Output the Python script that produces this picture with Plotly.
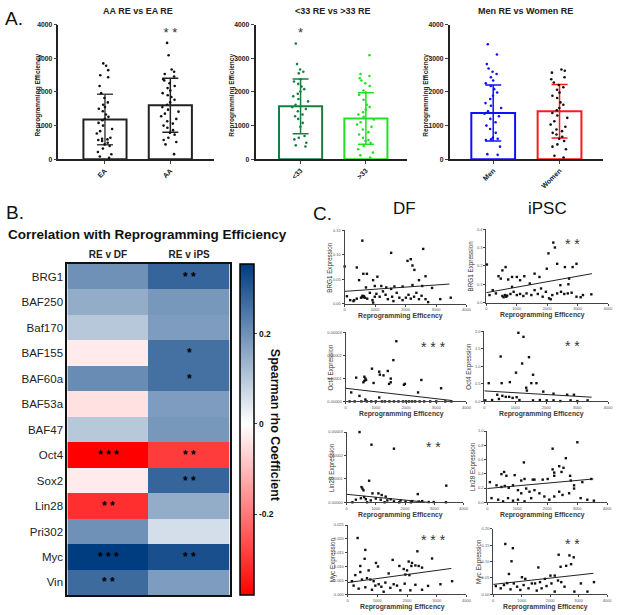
import plotly.graph_objects as go

W, H = 620, 615
FONT = "Liberation Sans"


def PX(x):
    return x / W


def PY(y):
    return 1 - y / H


# ---------------- Panel A data ----------------
race_groups = ["EA", "AA"]
race_means = [1180, 1605]
race_sd = [750, 800]
ea_re = [2850, 2780, 2650, 2500, 2440, 2180, 1965, 1820, 1690, 1620, 1550, 1500, 1425, 1330, 1260,
         1200, 1160, 1080, 1000, 900, 835, 767, 640, 610, 590, 570, 540, 490, 440, 393, 315, 216,
         147, 80, 40]
aa_re = [3460, 3095, 2670, 2600, 2535, 2460, 2380, 2340, 2260, 2180, 2115, 2045, 1965, 1905, 1850,
         1770, 1690, 1620, 1550, 1475, 1415, 1355, 1280, 1200, 1130, 1060, 1000, 935, 865, 785,
         730, 640, 570, 510, 440, 150]

age_groups = ["<33", ">33"]
age_means = [1572, 1209]
age_sd = [815, 765]
lt33_re = [3440, 2830, 2670, 2600, 2555, 2380, 2310, 2240, 2160, 2085, 2015, 1945, 1870, 1790, 1720,
           1620, 1550, 1495, 1425, 1330, 1280, 1200, 1080, 965, 690, 640, 590, 490, 413, 380]
gt33_re = [3095, 2535, 2475, 2410, 2340, 2260, 2180, 2045, 1985, 1915, 1770, 1620, 1550, 1475, 1395,
           1330, 1260, 1180, 1100, 1030, 965, 885, 805, 735, 640, 570, 540, 490, 393, 295, 197, 118, 50]

sex_groups = ["Men", "Women"]
sex_means = [1376, 1425]
sex_sd = [835, 795]
men_re = [3420, 3115, 2830, 2700, 2600, 2535, 2440, 2340, 2260, 2180, 2085, 1985, 1890, 1790, 1670,
          1590, 1525, 1425, 1355, 1280, 1200, 1100, 1000, 900, 785, 640, 610, 590, 570, 373, 150, 130]
women_re = [2670, 2630, 2575, 2440, 2380, 2280, 2210, 2140, 2065, 1985, 1890, 1820, 1690, 1620, 1525,
            1455, 1375, 1300, 1230, 1130, 1030, 965, 885, 835, 785, 735, 670, 610, 540, 440, 373,
            295, 100, 50]

# ---------------- Panel B data ----------------
genes = ["BRG1", "BAF250", "Baf170", "BAF155", "BAF60a", "BAF53a", "BAF47",
         "Oct4", "Sox2", "Lin28", "Pri302", "Myc", "Vin"]
heat_cols = ["RE v DF", "RE v iPS"]
rho_df = [0.20, 0.15, 0.10, -0.03, 0.21, -0.045, 0.10, -0.38, -0.03, -0.31, 0.20, 0.355, 0.27]
rho_ips = [0.28, 0.19, 0.18, 0.26, 0.26, 0.18, 0.19, -0.29, 0.28, 0.15, 0.06, 0.32, 0.18]
sig_df = ["", "", "", "", "", "", "", "***", "", "**", "", "***", "**"]
sig_ips = ["**", "", "", "*", "*", "", "", "**", "**", "", "", "**", ""]
cbar_ticks = [-0.2, 0, 0.2]

# ---------------- Panel C data ----------------
brg1_df_x = [0, 580, 2580, 1527, 400, 613, 731, 2065, 2172, 2226, 2290, 1075, 473, 2656, 2441, 935,
             700, 990, 1204, 1366, 1527, 1634, 1903, 2226, 2548, 2871, 75, 183, 312, 400, 537, 570,
             591, 613, 634, 667, 742, 828, 914, 990, 1043, 1150, 1258, 1344, 1419, 1559, 1602, 1710,
             1796, 1903, 2011, 2097, 2172, 2280, 2355, 2441, 2527, 2656, 2742, 3140, 3484, 290, 935]
brg1_df_y = [0.076, 0.129, 0.112, 0.104, 0.074, 0.061, 0.061, 0.0875, 0.091, 0.078, 0.069, 0.055,
             0.048, 0.056, 0.048, 0.048, 0.033, 0.036, 0.036, 0.033, 0.030, 0.035, 0.035, 0.038,
             0.036, 0.032, 0.015, 0.007, 0.007, 0.010, 0.012, 0.014, 0.016, 0.013, 0.015, 0.012,
             0.010, 0.022, 0.007, 0.014, 0.020, 0.014, 0.025, 0.018, 0.009, 0.014, 0.005, 0.022,
             0.012, 0.007, 0.012, 0.018, 0.010, 0.014, 0.022, 0.009, 0.016, 0.009, 0.003, 0.009,
             0.012, 0.005, 0.002]
brg1_df_fit_x = [0, 3440]
brg1_df_fit_y = [0.025, 0.040]

brg1_ips_x = [21, 635, 529, 402, 476, 720, 847, 1005, 1111, 1249, 1587, 1746, 1989, 2042, 2201, 2254,
              2328, 2836, 2963, 2582, 2720, 2698, 2434, 1799, 1429, 847, 212, 106, 317, 529, 571,
              614, 656, 688, 794, 899, 1005, 1111, 1217, 1323, 1481, 1587, 1693, 1852, 1958, 2063,
              2169, 2328, 2455, 2561, 2677, 2804, 2963, 3175, 3100, 3450, 2116]
brg1_ips_y = [0.208, 0.194, 0.176, 0.144, 0.131, 0.126, 0.140, 0.140, 0.122, 0.144, 0.158, 0.140,
              0.185, 0.269, 0.328, 0.301, 0.212, 0.194, 0.212, 0.194, 0.131, 0.100, 0.095, 0.077,
              0.104, 0.086, 0.068, 0.041, 0.050, 0.036, 0.029, 0.041, 0.032, 0.038, 0.047, 0.059,
              0.041, 0.047, 0.036, 0.050, 0.041, 0.068, 0.047, 0.032, 0.059, 0.023, 0.041, 0.050,
              0.059, 0.047, 0.050, 0.054, 0.032, 0.041, 0.029, 0.045, 0.018]
brg1_ips_fit_x = [0, 3470]
brg1_ips_fit_y = [0.054, 0.158]

oct4_df_x = [1679, 1580, 872, 1112, 1395, 1134, 1253, 1493, 349, 620, 654, 676, 620, 589, 926, 1439,
             1493, 1929, 1962, 2507, 3161, 2398, 185, 458, 654, 1112, 130, 300, 520, 700, 850, 1000,
             1200, 1300, 1450, 1600, 1750, 1900, 2000, 2100, 2200, 2300, 2450, 2600, 2800, 3000,
             3300, 3500]
oct4_df_y = [2.61e-5, 1.79e-5, 1.42e-5, 1.29e-5, 1.32e-5, 1.16e-5, 1.13e-5, 0.99e-5, 1.03e-5,
             1.07e-5, 0.99e-5, 0.93e-5, 0.89e-5, 0.83e-5, 0.80e-5, 0.76e-5, 0.83e-5, 0.72e-5,
             0.76e-5, 0.93e-5, 0.57e-5, 0.39e-5, 0.39e-5, 0.24e-5, 0.08e-5, 0.17e-5, 0, 0, 0, 0, 0,
             0, 0, 0, 0, 0, 0, 0, 0, 0, 0, 0, 0, 0, 0, 0, 0, 0]
oct4_df_fit_x = [0, 3510]
oct4_df_fit_y = [0.57e-5, 0.04e-5]

oct4_ips_x = [1102, 1267, 529, 1444, 1223, 1025, 1576, 143, 562, 826, 1520, 1686, 1355, 1377, 1906,
              2237, 2678, 2898, 419, 584, 694, 804, 915, 1047, 253, 473, 1135, 1576, 1796, 2017,
              2237, 2457, 2788, 3008, 3339, 33]
oct4_ips_y = [1.955, 1.84, 1.28, 1.26, 1.08, 0.82, 0.76, 0.52, 0.52, 0.55, 0.52, 0.52, 0.39, 0.31,
              0.28, 0.22, 0.19, 0.19, 0.19, 0.16, 0.13, 0.13, 0.10, 0.12, 0.04, 0.07, 0.04, 0.03,
              0.04, 0.03, 0.03, 0.01, 0.03, 0.01, 0.03, 0.03]
oct4_ips_fit_x = [0, 3470]
oct4_ips_fit_y = [0.30, 0.12]

lin28_df_x = [442, 850, 1620, 770, 510, 544, 578, 884, 1088, 1200, 1337, 2436, 3411, 317, 487, 600,
              657, 827, 997, 1167, 1394, 1507, 1620, 1847, 2017, 2244, 2470, 2586, 2810, 2980, 3400,
              200, 700, 1300, 1800, 2200]
lin28_df_y = [3.0e-5, 2.46e-5, 2.29e-5, 0.92e-5, 0.65e-5, 0.58e-5, 0.51e-5, 0.38e-5, 0.38e-5,
              0.31e-5, 0.24e-5, 0.35e-5, 0.71e-5, 0.11e-5, 0.17e-5, 0.22e-5, 0.13e-5, 0.08e-5,
              0.16e-5, 0.11e-5, 0.08e-5, 0.13e-5, 0.04e-5, 0.08e-5, 0.03e-5, 0.05e-5, 0.03e-5,
              0.05e-5, 0.01e-5, 0.01e-5, 0, 0, 0, 0, 0, 0]
lin28_df_fit_x = [0, 2750]
lin28_df_fit_y = [0.34e-5, 0.0]

lin28_ips_x = [3008, 2182, 2623, 1223, 2402, 2545, 2479, 2182, 2237, 2237, 562, 474, 639, 915, 1135,
               1245, 1521, 1576, 1851, 2017, 2766, 2788, 2898, 3174, 3471, 88, 309, 474, 584, 716,
               860, 1025, 1135, 1300, 1411, 1576, 1741, 1906, 2072, 2237, 2402, 2512, 2733, 2898,
               3118, 3339, 3559, 143, 364, 529, 694, 860, 1025, 1245, 1466]
lin28_ips_y = [0.843, 0.753, 0.619, 0.560, 0.507, 0.484, 0.426, 0.462, 0.417, 0.372, 0.426, 0.395,
               0.372, 0.381, 0.305, 0.327, 0.318, 0.318, 0.318, 0.327, 0.372, 0.305, 0.238, 0.283,
               0.327, 0.283, 0.238, 0.215, 0.229, 0.202, 0.238, 0.170, 0.126, 0.193, 0.148, 0.170,
               0.126, 0.081, 0.036, 0.081, 0.148, 0.103, 0.126, 0.193, 0.058, 0.036, 0.022, 0.058,
               0.036, 0.013, 0.058, 0.022, 0.036, 0.013, 0.058]
lin28_ips_fit_x = [0, 3540]
lin28_ips_fit_y = [0.193, 0.327]

myc_df_x = [337, 596, 573, 427, 955, 1022, 1517, 1742, 2056, 2169, 2281, 2393, 2146, 2348, 2506,
            2843, 3124, 3517, 1888, 2000, 1944, 2079, 146, 258, 483, 652, 764, 876, 1045, 1135, 1270,
            1438, 1551, 1663, 1775, 1921, 2112, 2281, 2506, 2708, 202, 371, 596, 820, 933, 1213,
            427, 708, 1382]
myc_df_y = [0.0203, 0.0160, 0.0128, 0.0102, 0.0113, 0.0100, 0.0124, 0.0102, 0.0118, 0.0113, 0.0104,
            0.0102, 0.0102, 0.0155, 0.0096, 0.0129, 0.0036, 0.0047, 0.0091, 0.0086, 0.0071, 0.0069,
            0.0047, 0.0069, 0.0053, 0.0058, 0.0053, 0.0047, 0.0036, 0.0027, 0.0042, 0.0023, 0.0036,
            0.0031, 0.0014, 0.0038, 0.0014, 0.0034, 0.0016, 0.0030, 0.0031, 0.0020, 0.0025, 0.0016,
            0.0031, 0.0009, 0.0080, 0.0086, 0.0075]
myc_df_fit_x = [0, 3490]
myc_df_fit_y = [0.0042, 0.0093]

myc_ips_x = [425, 690, 644, 552, 1586, 2011, 2299, 2678, 2828, 2368, 2563, 2161, 2736, 1011, 1126,
             1644, 1816, 1471, 2046, 2276, 2391, 92, 264, 379, 494, 609, 724, 839, 954, 1069, 1241,
             1356, 1529, 1701, 1874, 2161, 2506, 2851, 3310, 3540, 3080]
myc_ips_y = [0.154, 0.141, 0.101, 0.062, 0.082, 0.057, 0.121, 0.119, 0.113, 0.084, 0.087, 0.057,
             0.092, 0.052, 0.047, 0.037, 0.047, 0.033, 0.033, 0.042, 0.037, 0.025, 0.018, 0.028,
             0.034, 0.015, 0.033, 0.023, 0.013, 0.028, 0.018, 0.033, 0.011, 0.018, 0.025, 0.008,
             0.023, 0.008, 0.008, 0.037, 0.033]
myc_ips_fit_x = [0, 3520]
myc_ips_fit_y = [0.030, 0.064]

fig = go.Figure()
ann = []


def note(x, y, text, size, angle=0, color="#111", weight="normal", xanchor="center"):
    ann.append(dict(x=PX(x), y=PY(y), xref="paper", yref="paper", text=text, showarrow=False,
                    textangle=angle, xanchor=xanchor, yanchor="middle",
                    font=dict(size=size, family=FONT, color=color, weight=weight)))


# ---------------- Panel A ----------------
panelsA = [
    dict(groups=race_groups, means=race_means, sd=race_sd, vals=[ea_re, aa_re],
         line=["#222222", "#222222"], pts=["#111111", "#111111"], err=["#444444", "#222222"],
         xd=(58, 215), rng=[-0.712, 1.667], title="AA RE vs EA RE", tx=138, ylab_x=37,
         stars=["", "**"]),
    dict(groups=age_groups, means=age_means, sd=age_sd, vals=[lt33_re, gt33_re],
         line=["#168040", "#22E022"], pts=["#168040", "#22E022"], err=["#168040", "#22E022"],
         xd=(257, 410), rng=[-0.69, 1.63], title="<33 RE vs >33 RE", tx=335, ylab_x=233,
         stars=["*", ""]),
    dict(groups=sex_groups, means=sex_means, sd=sex_sd, vals=[men_re, women_re],
         line=["#1010FF", "#FF1A1A"], pts=["#1010FF", "#111111"], err=["#1010FF", "#FF1A1A"],
         xd=(453, 608), rng=[-0.657, 1.657], title="Men RE vs Women RE", tx=530, ylab_x=429,
         stars=["", ""]),
]

layout_axes = {}
for i, p in enumerate(panelsA, start=1):
    xa, ya = f"x{i}", f"y{i}"
    for j, g in enumerate(p["groups"]):
        fig.add_trace(go.Bar(
            x=[g], y=[p["means"][j]], width=0.66, xaxis=xa, yaxis=ya, showlegend=False,
            marker=dict(color="white", line=dict(color=p["line"][j], width=2)),
            error_y=dict(type="data", array=[p["sd"][j]], color=p["err"][j], thickness=1.5, width=8),
        ))
        fig.add_trace(go.Box(
            x=[g] * len(p["vals"][j]), y=p["vals"][j], xaxis=xa, yaxis=ya, showlegend=False,
            boxpoints="all", jitter=0.9, pointpos=0, width=0.32,
            fillcolor="rgba(0,0,0,0)", line=dict(color="rgba(0,0,0,0)", width=0),
            marker=dict(color=p["pts"][j], size=2.6),
        ))
        if p["stars"][j]:
            fig.add_trace(go.Scatter(
                x=[g], y=[3720], mode="text", text=[" ".join(p["stars"][j])],
                textfont=dict(size=13, color="#333", family=FONT), xaxis=xa, yaxis=ya,
                showlegend=False, cliponaxis=False))
    layout_axes[f"xaxis{i}"] = dict(
        domain=[PX(p["xd"][0]), PX(p["xd"][1])], anchor=ya, type="category",
        categoryorder="array", categoryarray=p["groups"], range=p["rng"],
        tickangle=-45, tickfont=dict(size=7, family=FONT, color="#222", weight="bold"),
        showline=True, linecolor="#222", linewidth=1.5, ticks="outside", ticklen=3,
        showgrid=False, zeroline=False)
    layout_axes[f"yaxis{i}"] = dict(
        domain=[PY(157), PY(21)], anchor=xa, range=[0, 4000], dtick=1000,
        tickfont=dict(size=6.8, family=FONT, color="#222", weight="bold"),
        showline=True, linecolor="#222", linewidth=1.5, ticks="outside", ticklen=3,
        showgrid=False, zeroline=False)
    note(p["tx"], 7, p["title"], 9, color="#222", weight="bold")
    note(p["ylab_x"], 92, "Reprogramming Efficiency", 6.5, angle=-90, color="#222", weight="bold")

# ---------------- Panel B ----------------
zmin, zmax = -0.38, 0.355
wpos = -zmin / (zmax - zmin)
z = [[rho_df[k], rho_ips[k]] for k in range(len(genes))]
txt = [[" ".join(sig_df[k]), " ".join(sig_ips[k])] for k in range(len(genes))]
fig.add_trace(go.Heatmap(
    z=z, x=heat_cols, y=genes, text=txt, texttemplate="%{text}",
    textfont=dict(size=12, color="black", family=FONT, weight="bold"),
    zmin=zmin, zmax=zmax,
    colorscale=[[0, "#FF0000"], [wpos, "#FFFFFF"], [1, "#003C80"]],
    xaxis="x4", yaxis="y4",
    colorbar=dict(x=PX(241), xanchor="left", thickness=14, thicknessmode="pixels",
                  len=(598 - 263) / H, lenmode="fraction", y=PY((263 + 598) / 2), yanchor="middle",
                  outlinecolor="black", outlinewidth=1.5, xpad=0, ypad=0,
                  tickvals=cbar_ticks, ticktext=["-0.2", "0", "0.2"], ticks="outside", ticklen=3,
                  tickfont=dict(size=8.5, family=FONT, color="#111", weight="bold")),
))
layout_axes["xaxis4"] = dict(domain=[PX(67), PX(231)], anchor="y4", side="top",
                             tickfont=dict(size=10, family=FONT, color="#222", weight="bold"),
                             showline=True, mirror=True, linecolor="#111", linewidth=2,
                             ticks="", showgrid=False, zeroline=False)
layout_axes["yaxis4"] = dict(domain=[PY(598), PY(263)], anchor="x4", autorange="reversed",
                             tickfont=dict(size=11.5, family=FONT, color="#222"),
                             showline=True, mirror=True, linecolor="#111", linewidth=2,
                             ticks="", showgrid=False, zeroline=False)

# ---------------- Panel C ----------------
panelsC = [
    ("BRG1", brg1_df_x, brg1_df_y, brg1_df_fit_x, brg1_df_fit_y, [0, 0.15], 0.05, ".2f", (347, 470), (229, 303), ""),
    ("BRG1", brg1_ips_x, brg1_ips_y, brg1_ips_fit_x, brg1_ips_fit_y, [0, 0.4], 0.1, ".1f", (490, 613), (228, 302), "**"),
    ("Oct4", oct4_df_x, oct4_df_y, oct4_df_fit_x, oct4_df_fit_y, [0, 3e-5], 1e-5, ".5f", (348, 470), (332, 402), "***"),
    ("Oct4", oct4_ips_x, oct4_ips_y, oct4_ips_fit_x, oct4_ips_fit_y, [0, 2.0], 0.5, ".1f", (488, 613), (331, 402), "**"),
    ("Lin28", lin28_df_x, lin28_df_y, lin28_df_fit_x, lin28_df_fit_y, [0, 3e-5], 1e-5, ".5f", (349, 467), (433, 504), "**"),
    ("Lin28", lin28_ips_x, lin28_ips_y, lin28_ips_fit_x, lin28_ips_fit_y, [0, 1.0], 0.2, ".1f", (491, 612), (432, 504), ""),
    ("Myc", myc_df_x, myc_df_y, myc_df_fit_x, myc_df_fit_y, [0, 0.025], 0.005, ".3f", (350, 470), (527, 597), "***"),
    ("Myc", myc_ips_x, myc_ips_y, myc_ips_fit_x, myc_ips_fit_y, [0, 0.2], 0.05, ".2f", (497, 612), (531, 597), "**"),
]
for k, (gname, xs, ys, fx, fy, yr, dt, fmt, xdp, ydp, st) in enumerate(panelsC):
    i = k + 5
    xa, ya = f"x{i}", f"y{i}"
    n = min(len(xs), len(ys))
    fig.add_trace(go.Scatter(x=xs[:n], y=ys[:n], mode="markers", xaxis=xa, yaxis=ya,
                             marker=dict(color="#111", size=2.4, symbol="square"),
                             showlegend=False, cliponaxis=False))
    fig.add_trace(go.Scatter(x=fx, y=fy, mode="lines", xaxis=xa, yaxis=ya,
                             line=dict(color="#222", width=1), showlegend=False))
    tickc = dict(size=4, family=FONT, color="#555")
    layout_axes[f"xaxis{i}"] = dict(domain=[PX(xdp[0]), PX(xdp[1])], anchor=ya, range=[0, 4000],
                                    dtick=1000, tickfont=tickc, showline=True, linecolor="#444",
                                    linewidth=1, ticks="outside", ticklen=2, showgrid=False,
                                    zeroline=False)
    layout_axes[f"yaxis{i}"] = dict(domain=[PY(ydp[1]), PY(ydp[0])], anchor=xa, range=yr,
                                    dtick=dt, tickformat=fmt, tickfont=tickc, showline=True,
                                    linecolor="#444", linewidth=1, ticks="outside", ticklen=2,
                                    showgrid=False, zeroline=False)
    note((xdp[0] + xdp[1]) / 2 - 5, min(ydp[1] + 12.5, 609.5), "Reprogramming Efficency", 6.8,
         color="#3a3a3a", weight="bold")
    note(xdp[0] - 15, (ydp[0] + ydp[1]) / 2, f"{gname} Expression", 6.3, angle=-90, color="#333")
    if st:
        sx = 437 if k % 2 == 0 else 577
        note(sx, ydp[0] + 15, " ".join(st), 14, color="#333")

# ---------------- Labels ----------------
note(2, 15, "A.", 19, xanchor="left")
note(3, 211, "B.", 19, xanchor="left")
note(148, 233, "Correlation with Reprogramming Efficiency", 13.5, weight="bold")
note(277, 426, "Spearman rho Coefficient", 12.5, angle=90, weight="bold")
note(313, 212, "C.", 19, xanchor="left")
note(407, 207, "DF", 17)
note(552, 207, "iPSC", 17)

fig.update_layout(
    width=W, height=H, margin=dict(l=0, r=0, t=0, b=0),
    paper_bgcolor="white", plot_bgcolor="white",
    barmode="overlay", boxmode="overlay", showlegend=False,
    annotations=ann, font=dict(family=FONT),
    **layout_axes,
)
fig.write_html("out.html", config={"displayModeBar": False},
               post_script="document.body.style.margin='0px';")
